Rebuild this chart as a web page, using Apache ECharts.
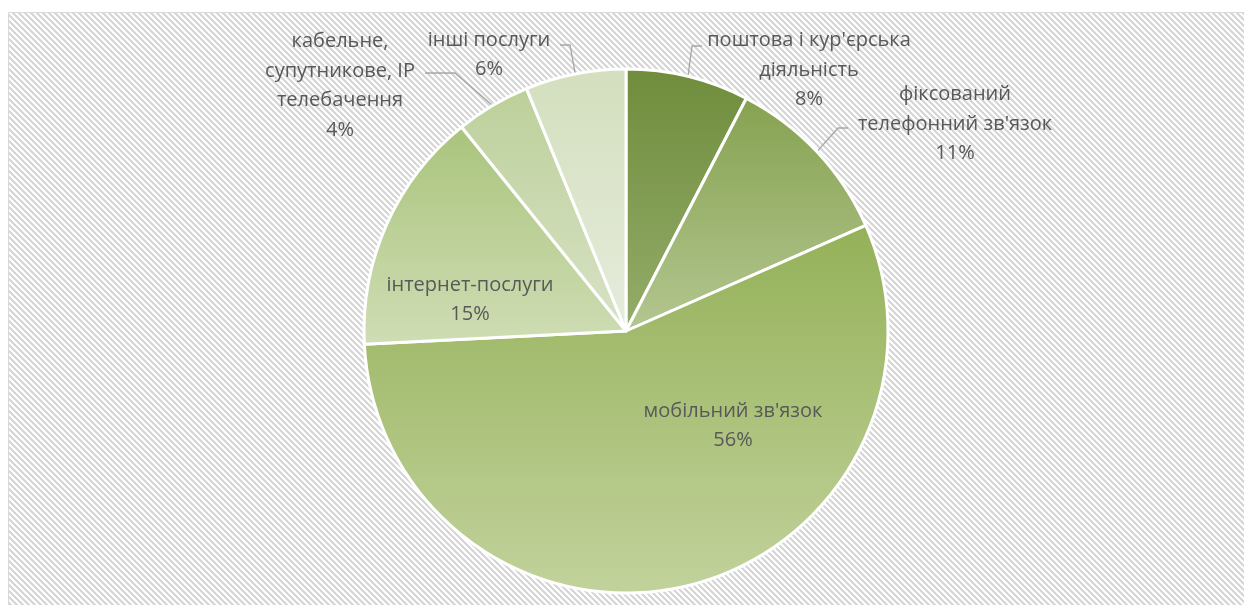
<!DOCTYPE html>
<html>
<head>
<meta charset="utf-8">
<script src="https://cdn.jsdelivr.net/npm/echarts@6/dist/echarts.min.js"></script>
<style>
html,body{margin:0;padding:0;background:#fff;}
#chart{width:1244px;height:605px;}
</style>
</head>
<body>
<div id="chart"></div>
<script>
// Data
const categories = [
  "поштова і кур'єрська\nдіяльність",
  "фіксований\nтелефонний зв'язок",
  "мобільний зв'язок",
  "інтернет-послуги",
  "кабельне,\nсупутникове, IP\nтелебачення",
  "інші послуги"
];
const values = [7.6, 10.8, 55.8, 15.0, 4.6, 6.2];
const shownPercents = [8, 11, 56, 15, 4, 6];

// Styles
const gradients = [
  ['#6f8d3c', '#94ac6a'],
  ['#86a250', '#b3c690'],
  ['#94b158', '#c2d29c'],
  ['#a9c47c', '#d0ddb5'],
  ['#bcd09a', '#d8e2c6'],
  ['#d3dfbe', '#e6ecdc']
];
// label centre positions and leader-line elbow offsets (layout only)
const labelPos = [
  {x: 809, y: 70, end: [-107, -24], elbow: -10},
  {x: 955, y: 124, end: [-107, 4], elbow: -10},
  {x: 733, y: 426, end: null},
  {x: 470, y: 300, end: null},
  {x: 340, y: 86, end: [85, -13], elbow: 30},
  {x: 489, y: 55, end: [71, -10], elbow: 10}
];

function makePattern() {
  const c = document.createElement('canvas');
  c.width = 6; c.height = 6;
  const g = c.getContext('2d');
  g.fillStyle = '#ffffff';
  g.fillRect(0, 0, 6, 6);
  g.strokeStyle = '#d4d4d4';
  g.lineWidth = 2;
  g.beginPath();
  g.moveTo(-1, -1); g.lineTo(7, 7);
  g.moveTo(-4, 2); g.lineTo(4, 10);
  g.moveTo(2, -4); g.lineTo(10, 4);
  g.stroke();
  return c;
}

const chart = echarts.init(document.getElementById('chart'), null, {renderer: 'canvas'});
const font = 'Open Sans';

chart.setOption({
  animation: false,
  backgroundColor: '#ffffff',
  graphic: [{
    type: 'rect',
    z: -10,
    silent: true,
    shape: {x: 8.5, y: 12.5, width: 1300, height: 700},
    style: {fill: {image: makePattern(), repeat: 'repeat'}, stroke: '#d9d9d9', lineWidth: 1}
  }],
  series: [{
    type: 'pie',
    center: [626, 331],
    radius: [0, 262],
    startAngle: 90,
    clockwise: true,
    avoidLabelOverlap: false,
    itemStyle: {borderColor: '#ffffff', borderWidth: 3},
    label: {
      show: true,
      position: 'outside',
      color: '#595959',
      fontFamily: font,
      fontSize: 20,
      lineHeight: 29.5,
      align: 'center',
      formatter: p => p.name + '\n' + shownPercents[p.dataIndex] + '%'
    },
    labelLine: {show: true, length: 10, length2: 10, lineStyle: {color: '#a6a6a6', width: 1.3}},
    labelLayout: function (params) {
      const lp = labelPos[params.dataIndex];
      const res = {x: lp.x, y: lp.y, align: 'center', verticalAlign: 'middle', moveOverlap: null};
      if (lp.end && params.labelLinePoints) {
        const start = params.labelLinePoints[0];
        const end = [lp.x + lp.end[0], lp.y + lp.end[1]];
        const mid = [end[0] + lp.elbow, end[1]];
        res.labelLinePoints = [start, mid, end];
      }
      return res;
    },
    data: categories.map((name, i) => ({
      name: name,
      value: values[i],
      labelLine: {show: !!labelPos[i].end},
      itemStyle: {
        color: new echarts.graphic.LinearGradient(0, 0, 0, 1, [
          {offset: 0, color: gradients[i][0]},
          {offset: 1, color: gradients[i][1]}
        ])
      }
    }))
  }]
});
</script>
</body>
</html>
